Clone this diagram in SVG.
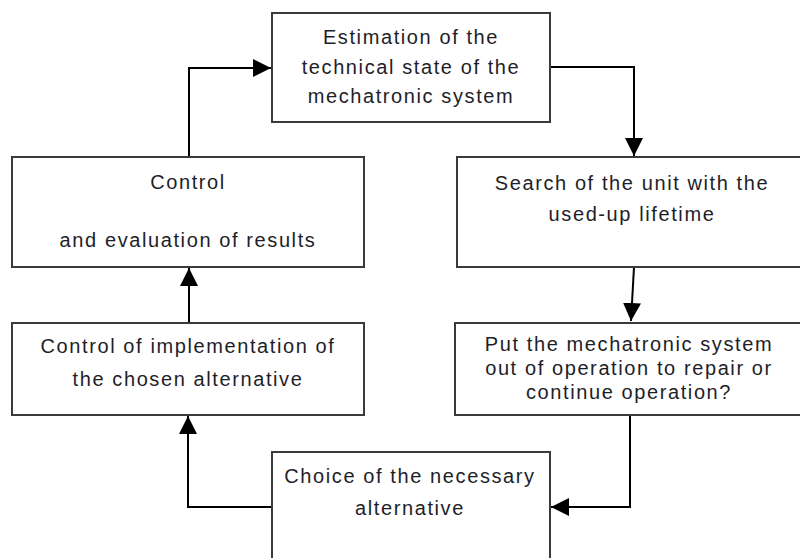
<svg xmlns="http://www.w3.org/2000/svg" width="800" height="558" viewBox="0 0 800 558">
<style>
.box{fill:#fff;stroke:#3a3a3a;stroke-width:2}
.t{font-family:"Liberation Sans",Arial,sans-serif;font-size:20px;letter-spacing:1.6px;fill:#1e1e28;text-anchor:middle}
.c{fill:none;stroke:#000;stroke-width:2}
</style>
<defs>
<marker id="ah" markerUnits="userSpaceOnUse" markerWidth="18" markerHeight="18" viewBox="0 0 16 16" refX="16" refY="8" orient="auto">
<path d="M0,0 L16,8 L0,16 Z" fill="#000"/>
</marker>
</defs>
<rect width="800" height="558" fill="#fff"/>
<g id="connectors">
<path class="c" d="M550,67 H634 V156" marker-end="url(#ah)"/>
<path class="c" d="M634,267 L631,321" marker-end="url(#ah)"/>
<path class="c" d="M630,415 V507 H551" marker-end="url(#ah)"/>
<path class="c" d="M272,507 H188 V416" marker-end="url(#ah)"/>
<path class="c" d="M189,323 V268" marker-end="url(#ah)"/>
<path class="c" d="M189,157 V68 H271" marker-end="url(#ah)"/>
</g>
<g id="estimation">
<rect class="box" x="272" y="13" width="278" height="109"/>
<text class="t" x="411" y="44">Estimation of the</text>
<text class="t" x="411" y="74">technical state of the</text>
<text class="t" x="411" y="103">mechatronic system</text>
</g>
<g id="search">
<rect class="box" x="457" y="157" width="360" height="110"/>
<text class="t" x="632" y="190">Search of the unit with the</text>
<text class="t" x="632" y="221">used-up lifetime</text>
</g>
<g id="put">
<rect class="box" x="455" y="323" width="362" height="92"/>
<text class="t" x="629" y="351">Put the mechatronic system</text>
<text class="t" x="629" y="375">out of operation to repair or</text>
<text class="t" x="629" y="399">continue operation?</text>
</g>
<g id="choice">
<rect class="box" x="272" y="452" width="278" height="120"/>
<text class="t" x="410" y="483">Choice of the necessary</text>
<text class="t" x="410" y="515">alternative</text>
</g>
<g id="implementation">
<rect class="box" x="12" y="323" width="352" height="92"/>
<text class="t" x="188" y="353">Control of implementation of</text>
<text class="t" x="188" y="386">the chosen alternative</text>
</g>
<g id="control">
<rect class="box" x="12" y="157" width="352" height="110"/>
<text class="t" x="188" y="189">Control</text>
<text class="t" x="188" y="247">and evaluation of results</text>
</g>
</svg>
